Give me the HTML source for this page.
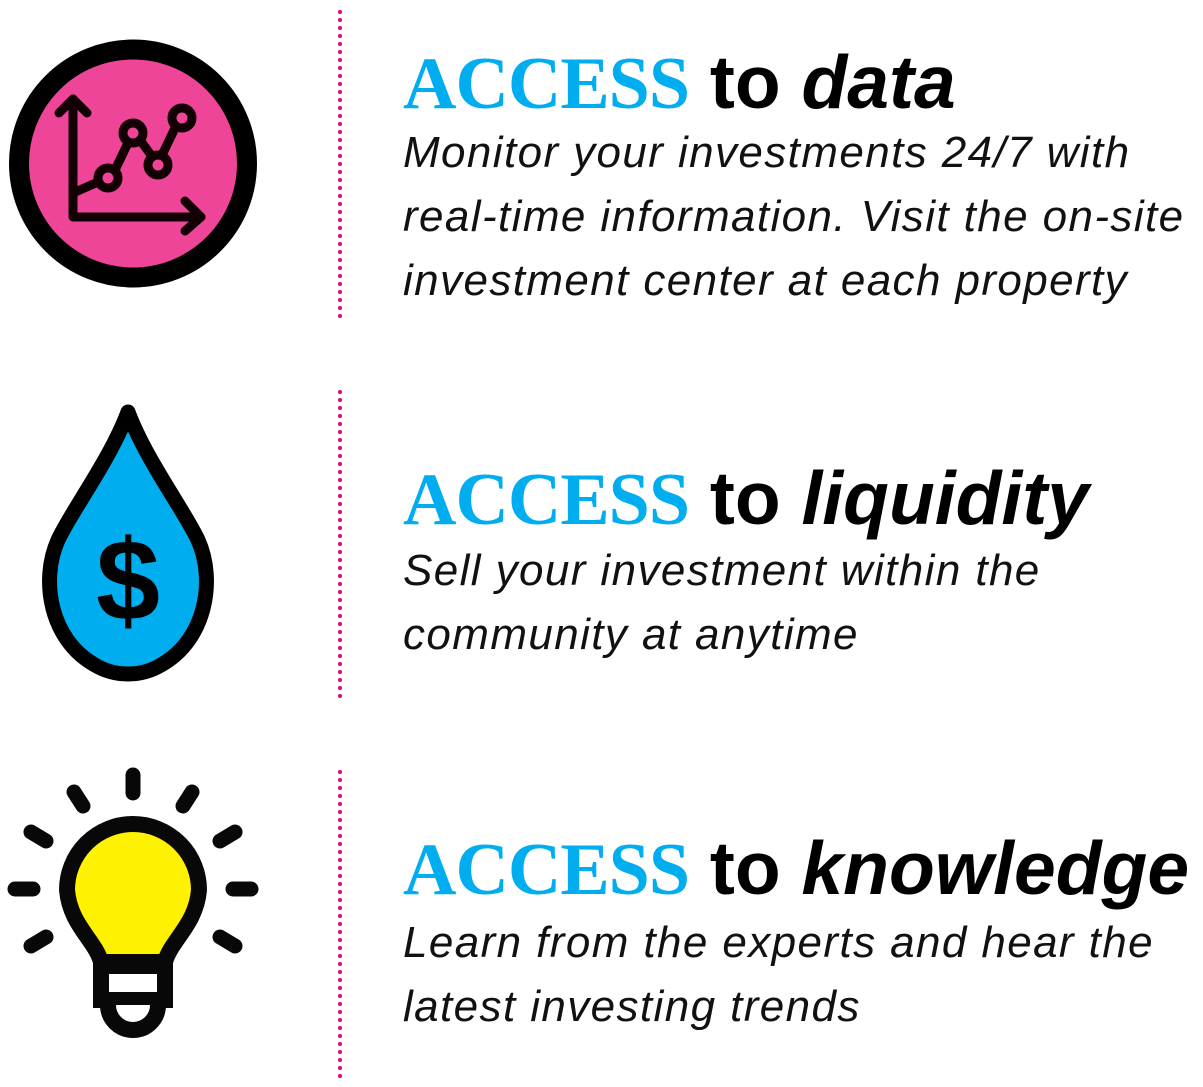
<!DOCTYPE html>
<html><head><meta charset="utf-8"><style>
body{margin:0;width:1203px;height:1087px;background:#fff;position:relative;overflow:hidden;font-family:"Liberation Sans",sans-serif}
.t{position:absolute;left:403px;white-space:nowrap}
.h{font-size:75px;font-weight:bold;line-height:1}
.a{font-family:"Liberation Serif",serif;color:#00aeef;font-size:74px;letter-spacing:-1px}
.b{font-size:44px;letter-spacing:1.4px;font-style:italic;color:#111;line-height:64px}
</style></head><body>
<svg width="1203" height="1087" style="position:absolute;left:0;top:0">
<g stroke="#e6007e" stroke-width="4" stroke-linecap="round" stroke-dasharray="0 8">
<line x1="340" y1="12" x2="340" y2="318"/><line x1="340" y1="392" x2="340" y2="698"/><line x1="340" y1="772" x2="340" y2="1078"/>
</g>
<circle cx="133" cy="163.5" r="114" fill="#ef4598" stroke="#000" stroke-width="20"/>
<g fill="none" stroke="#120005" stroke-width="9" stroke-linecap="round" stroke-linejoin="round">
<path d="M73 99V217H201"/><path d="M59 113L73 99L87 113"/><path d="M185 201L201 217L185 231"/>
<path d="M73 193L98 182M115 170L127 145M140 140L151 155M163 153L175 128"/>
<circle cx="108" cy="178" r="10"/><circle cx="133" cy="133" r="10"/><circle cx="158" cy="165" r="10"/><circle cx="182" cy="118" r="10"/>
</g>
<path d="M128 412C110 460 72 510 58 540C40 580 50 640 95 665C115 677 141 677 161 665C206 640 216 580 198 540C184 510 146 460 128 412Z" fill="#00aeef" stroke="#000" stroke-width="15" stroke-linejoin="round"/>
<text x="128" y="620" text-anchor="middle" font-family="Liberation Sans" font-weight="bold" font-size="115" fill="#000">$</text>
<g stroke="#080808" stroke-width="15" stroke-linecap="round">
<line x1="133" y1="775" x2="133" y2="793"/>
<line x1="74" y1="792" x2="83" y2="806"/><line x1="192" y1="792" x2="183" y2="806"/>
<line x1="31" y1="832" x2="46" y2="841"/><line x1="235" y1="832" x2="220" y2="841"/>
<line x1="15" y1="889" x2="33" y2="889"/><line x1="233" y1="889" x2="251" y2="889"/>
<line x1="31" y1="946" x2="46" y2="937"/><line x1="235" y1="946" x2="220" y2="937"/>
</g>
<path d="M101 962C95 940 70 925 67 890A66 66 0 0 1 199 890C196 925 171 940 165 962Z" fill="#fff200" stroke="#080808" stroke-width="16" stroke-linejoin="round"/>
<rect x="101" y="966" width="64" height="34" fill="#fff" stroke="#080808" stroke-width="16"/>
<path d="M108 1005A25 25 0 0 0 158 1005" fill="#fff" stroke="#080808" stroke-width="16"/>
</svg>
<div class="t h" style="top:45px"><span class="a">ACCESS</span> to <i>data</i></div>
<div class="t b" style="top:121px">Monitor your investments 24/7 with<br>real-time information. Visit the on-site<br>investment center at each property</div>
<div class="t h" style="top:461px"><span class="a">ACCESS</span> to <i>liquidity</i></div>
<div class="t b" style="top:539px">Sell your investment within the<br>community at anytime</div>
<div class="t h" style="top:831px"><span class="a">ACCESS</span> to <i>knowledge</i></div>
<div class="t b" style="top:911px">Learn from the experts and hear the<br>latest investing trends</div>
</body></html>
